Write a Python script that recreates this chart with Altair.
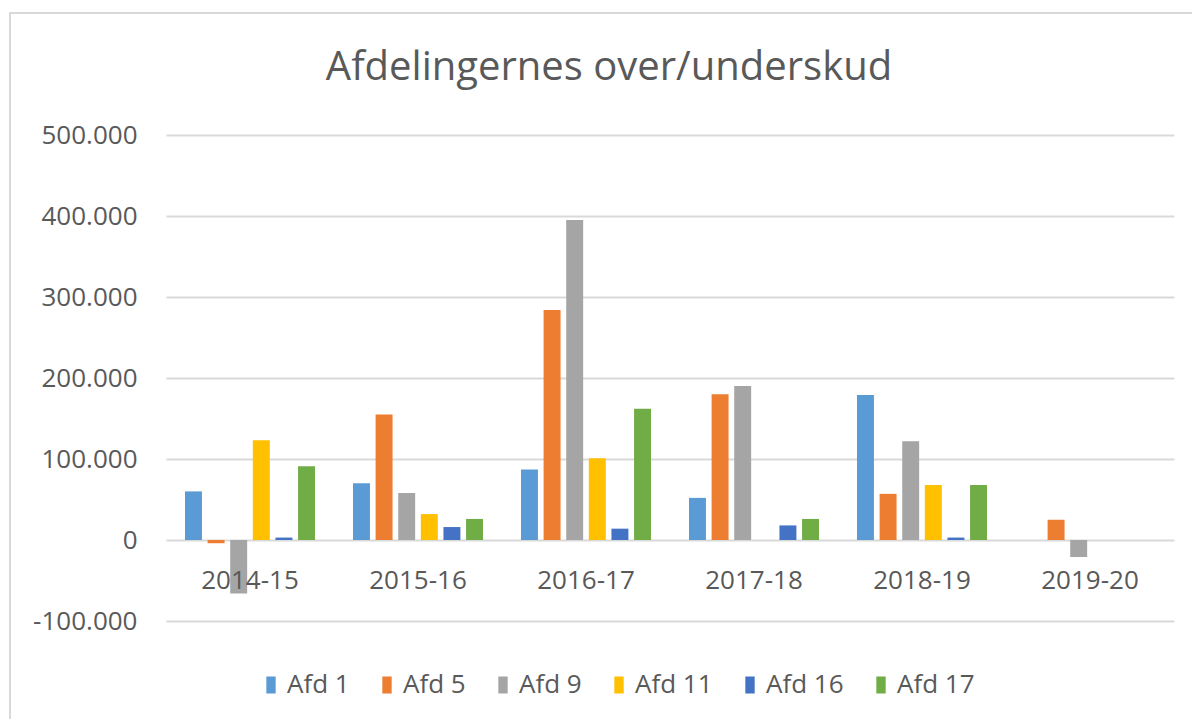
import altair as alt
import pandas as pd

years = ["2014-15", "2015-16", "2016-17", "2017-18", "2018-19", "2019-20"]
series = ["Afd 1", "Afd 5", "Afd 9", "Afd 11", "Afd 16", "Afd 17"]
colors = ["#5B9BD5", "#ED7D31", "#A5A5A5", "#FFC000", "#4472C4", "#70AD47"]

afd1 = [60000, 70000, 87000, 52000, 179000, None]
afd5 = [-4000, 155000, 284000, 180000, 57000, 25000]
afd9 = [-66000, 58000, 395000, 190000, 122000, -21000]
afd11 = [123000, 32000, 101000, None, 68000, None]
afd16 = [3000, 16000, 14000, 18000, 3000, None]
afd17 = [91000, 26000, 162000, 26000, 68000, None]

y_ticks = [-100000, 0, 100000, 200000, 300000, 400000, 500000]
title_text = "Afdelingernes over/underskud"

rows = []
for name, vals in zip(series, [afd1, afd5, afd9, afd11, afd16, afd17]):
    for yr, v in zip(years, vals):
        if v is not None:
            rows.append({"year": yr, "afd": name, "value": v})
df = pd.DataFrame(rows)

FONT = "Open Sans"
TXT = "#595959"
GRID = "#d9d9d9"

bars = alt.Chart(df).mark_bar().encode(
    x=alt.X("year:N", sort=years,
            scale=alt.Scale(domain=years, paddingInner=0.226, paddingOuter=0.113),
            axis=alt.Axis(title=None, labelAngle=0, ticks=False, domain=False,
                          offset=-81, labelPadding=27, labelFontSize=26,
                          labelFont=FONT, labelColor=TXT, zindex=1)),
    xOffset=alt.XOffset("afd:N", sort=series,
                        scale=alt.Scale(domain=series, paddingInner=0.25, paddingOuter=0)),
    y=alt.Y("value:Q",
            scale=alt.Scale(domain=[-100000, 500000], nice=False, zero=False),
            axis=alt.Axis(title=None, values=y_ticks, ticks=False, domain=False,
                          labelPadding=29, labelFontSize=26, labelFont=FONT,
                          labelColor=TXT, gridColor=GRID, gridWidth=2,
                          labelExpr="datum.value == 0 ? '0' : (datum.value < 0 ? '-' : '') + format(abs(datum.value) / 1000, 'd') + '.000'")),
    color=alt.Color("afd:N", sort=series,
                    scale=alt.Scale(domain=series, range=colors),
                    legend=alt.Legend(title=None, orient="none", direction="horizontal",
                                      columns=6, legendX=92, legendY=537,
                                      symbolType="M-0.55,-1H0.55V1H-0.55Z",
                                      symbolSize=289, symbolStrokeWidth=0,
                                      labelFontSize=26, labelFont=FONT, labelColor=TXT,
                                      labelOffset=3, columnPadding=24, padding=0)),
)

one = pd.DataFrame({"k": [0]})

border = alt.Chart(one).mark_rect(
    fill=None, stroke=GRID, strokeWidth=2
).encode(
    x=alt.value(-156), x2=alt.value(1040),
    y=alt.value(-122), y2=alt.value(620),
)

title = alt.Chart(one).mark_text(
    font=FONT, fontSize=40, color=TXT, align="center", baseline="alphabetic"
).encode(
    x=alt.value(443), y=alt.value(-55), text=alt.value(title_text)
)

chart = alt.layer(border, bars, title).properties(
    width=1008, height=486,
    autosize=alt.AutoSizeParams(type="none"),
    padding={"left": 158, "top": 127, "right": 18, "bottom": 98},
).configure_view(stroke=None)

chart.save("out.html", embed_options={"renderer": "svg", "actions": False})
